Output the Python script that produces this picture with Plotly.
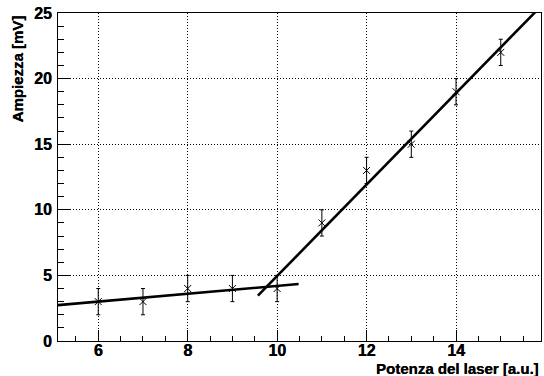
import numpy as np
import plotly.graph_objects as go

# Measured amplitude vs laser power
potenza = [6, 7, 8, 9, 10, 11, 12, 13, 14, 15]
ampiezza = [3, 3, 4, 4, 4, 9, 13, 15, 19, 22]
errore = [1, 1, 1, 1, 1, 1, 1, 1, 1, 1]

# Linear fits: below threshold (points 6-10) and above threshold (points 10-15)
fit_basso_punti = (0, 5)
fit_alto_punti = (4, 10)
fit_basso_x = [5.1, 10.48]
fit_alto_x = [9.57, 15.9]

x_range = [5.1, 15.9]
y_range = [0, 25]
x_ticks = [6, 8, 10, 12, 14]
y_ticks = [0, 5, 10, 15, 20, 25]

FONT = "Liberation Sans"


def linear_fit(i0, i1):
    x = np.array(potenza[i0:i1], dtype=float)
    y = np.array(ampiezza[i0:i1], dtype=float)
    slope, intercept = np.polyfit(x, y, 1)
    return slope, intercept


fig = go.Figure()

for (i0, i1), xs in ((fit_basso_punti, fit_basso_x), (fit_alto_punti, fit_alto_x)):
    m, q = linear_fit(i0, i1)
    xs = np.array(xs)
    fig.add_trace(go.Scatter(
        x=xs, y=m * xs + q, mode="lines",
        line=dict(color="black", width=2.6),
        hoverinfo="skip", showlegend=False,
    ))

fig.add_trace(go.Scatter(
    x=potenza, y=ampiezza, mode="markers",
    marker=dict(symbol="x-thin", size=7, line=dict(color="black", width=1)),
    error_y=dict(type="data", array=errore, visible=True,
                 color="black", thickness=1, width=2),
    showlegend=False,
))

axis_common = dict(
    showline=True, linecolor="black", linewidth=1, mirror=True,
    ticks="inside", tickcolor="black", tickwidth=1,
    showgrid=True, gridcolor="black", gridwidth=1, griddash="1px,2px",
    zeroline=False,
    tickfont=dict(family=FONT, size=16, color="black", weight="bold",
                  shadow="0.4px 0px 0px black"),
)

fig.update_xaxes(
    range=x_range, tickvals=x_ticks,
    ticktext=[str(v) for v in x_ticks], ticklen=11,
    minor=dict(dtick=0.5, tick0=6, ticks="inside", ticklen=5,
               tickcolor="black", showgrid=False),
    ticklabelstandoff=-5,
    **axis_common,
)
fig.update_yaxes(
    range=y_range, tickvals=y_ticks,
    ticktext=[str(v) for v in y_ticks], ticklen=12,
    minor=dict(dtick=1, ticks="inside", ticklen=6,
               tickcolor="black", showgrid=False),
    ticklabelstandoff=2,
    **axis_common,
)

title_font = dict(family=FONT, size=15, color="black", weight="bold",
                  shadow="0.3px 0px 0px black")

fig.update_layout(
    width=544, height=376,
    margin=dict(l=58, r=3, t=13, b=35),
    paper_bgcolor="white", plot_bgcolor="white",
    annotations=[
        dict(text="Potenza del laser [a.u.]", xref="paper", yref="paper",
             x=1.0, y=-0.052, xanchor="right", yanchor="top", showarrow=False,
             font=title_font),
        dict(text="Ampiezza [mV]", xref="paper", yref="paper",
             x=-0.083, y=1.0, xanchor="center", yanchor="top", textangle=-90,
             showarrow=False, font=title_font),
    ],
)

fig.write_html("out.html")
